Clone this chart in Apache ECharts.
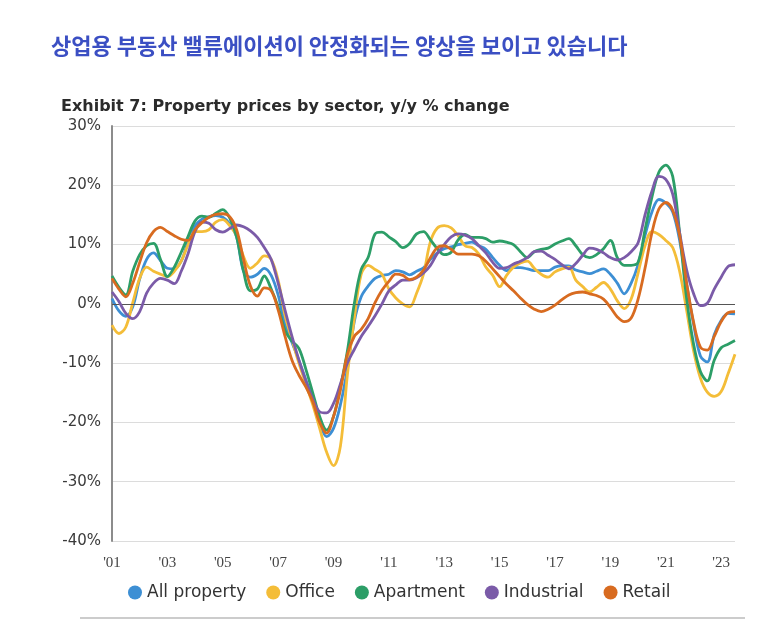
<!DOCTYPE html>
<html lang="ko">
<head>
    <meta charset="utf-8">
    <title>Property prices by sector</title>
    <script src="https://cdn.jsdelivr.net/npm/echarts@6/dist/echarts.min.js"></script>
    <style type="text/css">
        html, body {
            width: 100%;
            height: 100%;
            margin: 0px;
            padding: 0px;
            background: #fff;
        }

        #main {
            width: 773px;
            height: 622px;
        }
    </style>
</head>
<body>
<div id="main"></div>
<script>
    // quarterly y/y % change, 2001Q1 .. 2023Q3
    var seriesNames = ['All property', 'Office', 'Apartment', 'Industrial', 'Retail'];
    var seriesColors = ['#3d8fd4', '#f4bd38', '#2c9e67', '#7b5ba8', '#d86b20'];
    var tickLabels = ["'01", "'03", "'05", "'07", "'09", "'11", "'13", "'15", "'17", "'19", "'21", "'23"];
    var startYear = 2001, endYear = 2023, lastQuarter = 3;

    var allProperty = [
        0.9, -1.2, -2.1, -0.5, 4.2, 7.5, 8.6, 7.3, 6.0, 5.9, 7.2, 10.5,
        13.2, 14.3, 14.7, 14.9, 14.6, 13.5, 11.3, 5.5, 4.5, 5.0, 6.0, 4.8,
        1.5, -3.5, -6.5, -9.5, -12.8, -16.0, -20.0, -22.4, -21.0, -17.0, -11.0, -3.0,
        1.2, 3.0, 4.3, 4.8, 5.0, 5.6, 5.4, 4.9, 5.5, 6.1, 7.5, 8.6,
        9.3, 9.6, 10.0, 10.2, 10.4, 9.8, 9.2, 7.8, 6.5, 5.6, 6.1, 6.1,
        5.9, 5.6, 5.6, 5.6, 6.2, 6.4, 6.4, 5.7, 5.4, 5.1, 5.5, 5.9,
        5.0, 3.5, 1.7, 3.5, 6.6, 11.5, 15.5, 17.6, 17.0, 15.5, 10.7, 3.4,
        -3.3, -8.8, -9.8, -5.2, -2.8, -1.6, -1.7
    ];
    var office = [
        -3.6, -5.0, -3.9, 0.2, 4.3, 6.2, 5.5, 5.0, 4.6, 5.5, 7.2, 10.0,
        12.2, 12.2, 12.5, 13.8, 14.2, 13.2, 11.5, 8.0, 6.0, 6.9, 8.1, 7.5,
        4.0, -2.0, -6.0, -10.0, -13.5, -17.0, -21.0, -25.0, -27.3, -24.0, -12.0, -2.5,
        5.0, 6.5, 5.8, 5.0, 2.5, 1.0, 0.0, -0.5, 1.8, 5.0, 10.5, 12.8,
        13.2, 12.8, 11.5, 9.8, 9.5, 8.4, 6.2, 4.8, 2.9, 4.8, 6.2, 6.9,
        7.2, 6.0, 5.0, 4.5, 5.4, 5.9, 6.2, 4.0, 2.9, 2.0, 2.8, 3.6,
        2.5, 0.5, -0.8, 0.8, 5.2, 9.8, 12.2, 11.7, 10.7, 9.5, 5.5, -1.0,
        -7.8, -12.5, -14.9, -15.6, -14.8, -11.8, -8.5
    ];
    var apartment = [
        4.7, 2.8, 1.5, 5.5, 8.3, 9.8, 10.2, 7.5, 4.6, 6.2, 8.7, 11.4,
        14.0, 14.8, 14.6, 15.3, 15.9, 14.5, 11.3, 5.5, 2.2, 2.5, 4.7, 2.5,
        -0.5, -4.5, -6.3, -7.5, -11.0, -15.0, -19.0, -21.3, -19.0, -14.0, -8.0, 0.0,
        5.8, 7.8, 11.8, 12.1, 11.3, 10.5, 9.5, 10.2, 11.8, 12.2, 10.8, 9.3,
        8.3, 8.7, 10.8, 11.7, 11.2, 11.2, 11.0, 10.4, 10.6, 10.4, 10.0, 8.8,
        7.8, 8.8, 9.2, 9.4, 10.1, 10.6, 11.0, 9.8, 8.3, 7.8, 8.3, 9.3,
        10.7, 7.8, 6.5, 6.5, 7.0, 12.5, 18.0, 22.2, 23.4, 21.5, 12.0, 1.0,
        -6.7, -11.4, -13.0, -9.5, -7.4, -6.8, -6.2
    ];
    var industrial = [
        2.0, 0.4, -1.6, -2.5, -1.3, 1.8, 3.5, 4.3, 4.0, 3.4, 5.5, 8.5,
        12.2, 13.8, 13.6, 12.5, 12.1, 12.7, 13.3, 13.0, 12.3, 11.2, 9.5, 7.5,
        3.5, -1.1, -5.5, -9.5, -13.0, -16.0, -18.2, -18.4, -16.8, -13.5, -10.0, -7.7,
        -5.5, -3.8, -2.0, 0.0, 2.2, 3.2, 4.0, 4.0, 4.4, 5.2, 6.5, 8.5,
        10.0, 11.3, 11.8, 11.6, 11.0, 9.8, 8.6, 7.0, 6.0, 6.1, 6.7, 7.2,
        7.8, 8.8, 8.9, 8.2, 7.5, 6.6, 5.9, 6.8, 8.2, 9.4, 9.2, 8.6,
        7.8, 7.4, 7.8, 8.8, 10.3, 15.0, 19.0, 21.5, 21.0, 18.5, 12.0, 5.8,
        1.8, -0.3, 0.1, 2.5, 4.5, 6.3, 6.6
    ];
    var retail = [
        4.3, 2.5, 1.2, 3.5, 7.0, 10.3, 12.2, 12.9, 12.2, 11.5, 10.9, 10.7,
        12.5, 13.7, 14.6, 15.1, 15.2, 14.7, 12.5, 7.5, 3.0, 1.3, 2.7, 2.2,
        -1.0, -5.5, -9.5, -12.0, -14.0, -16.5, -20.0, -21.8, -19.0, -14.5, -8.5, -5.5,
        -4.3, -2.5, 0.2, 2.3, 3.8, 5.0, 4.8, 4.1, 4.5, 5.7, 7.8, 9.5,
        9.8, 9.2, 8.4, 8.4, 8.4, 8.1, 7.2, 5.9, 4.6, 3.3, 2.2, 1.0,
        -0.1, -0.9, -1.3, -0.9, -0.2, 0.7, 1.5, 1.9, 2.0, 1.7, 1.4, 0.8,
        -0.6, -2.2, -3.0, -2.4, 0.8, 6.0, 12.0, 16.0, 17.1, 15.8, 11.5, 3.6,
        -3.0, -7.3, -7.8, -5.5, -3.0, -1.5, -1.3
    ];

    var quarters = [];
    for (var y = startYear; y <= endYear; y++) {
        for (var q = 1; q <= 4; q++) {
            if (y === endYear && q > lastQuarter) break;
            quarters.push(y + 'Q' + q);
        }
    }

    var values = [allProperty, office, apartment, industrial, retail];
    var series = [];
    for (var i = 0; i < seriesNames.length; i++) {
        var s = {
            name: seriesNames[i],
            type: 'line',
            data: values[i],
            smooth: 0.35,
            symbol: 'none',
            lineStyle: { width: 2.8, color: seriesColors[i] },
            itemStyle: { color: seriesColors[i] },
            z: 3 + i
        };
        if (i === 0) {
            // 0% reference line
            s.markLine = {
                silent: true,
                symbol: 'none',
                label: { show: false },
                lineStyle: { color: '#555', width: 1.2, type: 'solid' },
                data: [{ yAxis: 0 }],
                animation: false
            };
        }
        series.push(s);
    }

    var myChart = echarts.init(document.getElementById('main'));

    var option = {
        backgroundColor: '#fff',
        animation: false,
        title: [{
            text: '상업용 부동산 밸류에이션이 안정화되는 양상을 보이고 있습니다',
            left: 46,
            top: 30,
            textStyle: {
                fontFamily: 'Noto Sans CJK KR',
                fontSize: 22,
                fontWeight: 'bold',
                color: '#3b4fc3'
            }
        }, {
            text: 'Exhibit 7: Property prices by sector, y/y % change',
            left: 56,
            top: 94,
            textStyle: {
                fontFamily: 'DejaVu Sans',
                fontSize: 16,
                fontWeight: 'bold',
                color: '#2b2b2b'
            }
        }],
        legend: {
            data: seriesNames,
            bottom: 16,
            left: 123,
            icon: 'circle',
            itemWidth: 14,
            itemHeight: 14,
            itemGap: 20,
            textStyle: { fontFamily: 'DejaVu Sans', fontSize: 17, color: '#333' }
        },
        grid: { left: 112, right: 38, top: 126, bottom: 81 },
        xAxis: {
            type: 'category',
            data: quarters,
            boundaryGap: false,
            axisLine: { show: false },
            axisTick: { show: false },
            splitLine: { show: false },
            axisLabel: {
                interval: 7,
                margin: 15,
                fontFamily: 'Liberation Serif',
                fontSize: 15,
                color: '#444',
                formatter: function (val, idx) {
                    return tickLabels[idx / 8] || '';
                }
            }
        },
        yAxis: {
            type: 'value',
            min: -40,
            max: 30,
            interval: 10,
            axisLine: { show: true, lineStyle: { color: '#8c8c8c', width: 2 } },
            axisTick: { show: false },
            splitLine: { lineStyle: { color: '#dcdcdc', width: 1.2 } },
            axisLabel: {
                margin: 11,
                fontFamily: 'DejaVu Sans',
                fontSize: 15,
                color: '#3a3a3a',
                formatter: '{value}%'
            }
        },
        graphic: [{
            type: 'line',
            shape: { x1: 80, y1: 618, x2: 745, y2: 618 },
            style: { stroke: '#9a9a9a', lineWidth: 1.2 }
        }],
        series: series
    };

    myChart.setOption(option);
</script>
</body>
</html>
